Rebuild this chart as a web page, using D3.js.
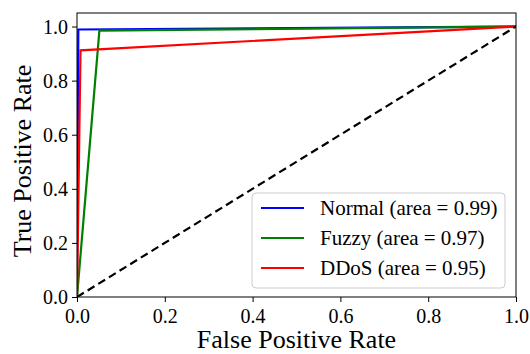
<!DOCTYPE html>
<html>
<head>
<meta charset="utf-8">
<script src="https://cdn.jsdelivr.net/npm/d3@7"></script>
<style>
  body { margin: 0; background: #fff; }
  svg { display: block; }
</style>
</head>
<body>
<svg id="chart" width="530" height="354"></svg>
<script>
// ---- Data ----
const seriesNames = ["Normal", "Fuzzy", "DDoS"];
const seriesAUC = ["0.99", "0.97", "0.95"];
const seriesColors = ["#0000ff", "#008000", "#ff0000"];
const normalFPR = [0, 0.003, 1];
const normalTPR = [0, 0.989, 1];
const fuzzyFPR = [0, 0.051, 1];
const fuzzyTPR = [0, 0.985, 1];
const ddosFPR = [0, 0.008, 1];
const ddosTPR = [0, 0.912, 1];
const diagFPR = [0, 1];
const diagTPR = [0, 1];
const xTicks = [0, 0.2, 0.4, 0.6, 0.8, 1.0];
const yTicks = [0, 0.2, 0.4, 0.6, 0.8, 1.0];

const series = [
  { fpr: normalFPR, tpr: normalTPR },
  { fpr: fuzzyFPR, tpr: fuzzyTPR },
  { fpr: ddosFPR, tpr: ddosTPR }
];

const FONT = "'Liberation Serif'";

// ---- Layout ----
const W = 530, H = 354;
const margin = { left: 77, right: 14, top: 13, bottom: 57 };
const svg = d3.select("#chart");

const x = d3.scaleLinear().domain([0, 1]).range([margin.left, W - margin.right]);
const y = d3.scaleLinear().domain([0, 1.05]).range([H - margin.bottom, margin.top]);

// Axes
const xAxis = d3.axisBottom(x).tickValues(xTicks).tickFormat(d3.format(".1f")).tickSize(5).tickSizeOuter(0);
const yAxis = d3.axisLeft(y).tickValues(yTicks).tickFormat(d3.format(".1f")).tickSize(5).tickSizeOuter(0);

const gx = svg.append("g").attr("transform", `translate(0,${H - margin.bottom})`).call(xAxis);
const gy = svg.append("g").attr("transform", `translate(${margin.left},0)`).call(yAxis);
[gx, gy].forEach(g => {
  g.select(".domain").remove();
  g.selectAll(".tick line").attr("stroke", "#000").attr("stroke-width", 1);
  g.selectAll(".tick text").attr("fill", "#000").attr("font-size", 20)
    .style("font-family", FONT);
});
gx.selectAll(".tick text").attr("dy", null).attr("y", 26);
gy.selectAll(".tick text").attr("x", -9).attr("dy", "0.34em");

// Clip
svg.append("clipPath").attr("id", "clip").append("rect")
  .attr("x", margin.left).attr("y", margin.top)
  .attr("width", W - margin.left - margin.right)
  .attr("height", H - margin.top - margin.bottom);

const plot = svg.append("g").attr("clip-path", "url(#clip)");

const line = d3.line().x(d => x(d[0])).y(d => y(d[1]));

series.forEach((s, i) => {
  plot.append("path")
    .datum(s.fpr.map((f, j) => [f, s.tpr[j]]))
    .attr("d", line)
    .attr("fill", "none")
    .attr("stroke", seriesColors[i])
    .attr("stroke-width", 2.2)
    .attr("stroke-linejoin", "miter");
});

plot.append("path")
  .datum(diagFPR.map((f, j) => [f, diagTPR[j]]))
  .attr("d", line)
  .attr("fill", "none")
  .attr("stroke", "#000")
  .attr("stroke-width", 2.2)
  .attr("stroke-dasharray", "8,4.5");

// Frame
svg.append("rect")
  .attr("x", margin.left).attr("y", margin.top)
  .attr("width", W - margin.left - margin.right)
  .attr("height", H - margin.top - margin.bottom)
  .attr("fill", "none").attr("stroke", "#000").attr("stroke-width", 1);

// Axis labels
svg.append("text")
  .attr("x", (x(0) + x(1)) / 2).attr("y", 348)
  .attr("text-anchor", "middle").attr("font-size", 26).attr("fill", "#000")
  .style("font-family", FONT)
  .text("False Positive Rate");

svg.append("text")
  .attr("transform", `translate(31,${(y(0) + y(1.05)) / 2 + 6}) rotate(-90)`)
  .attr("text-anchor", "middle").attr("font-size", 26).attr("fill", "#000")
  .style("font-family", FONT)
  .text("True Positive Rate");

// Legend
const lg = svg.append("g");
lg.append("rect")
  .attr("x", 252).attr("y", 193).attr("width", 253).attr("height", 95)
  .attr("rx", 4).attr("ry", 4)
  .attr("fill", "#fff").attr("fill-opacity", 0.8)
  .attr("stroke", "#cccccc").attr("stroke-width", 1);

seriesNames.forEach((name, i) => {
  const cy = 208 + i * 30;
  lg.append("line")
    .attr("x1", 261).attr("x2", 304).attr("y1", cy).attr("y2", cy)
    .attr("stroke", seriesColors[i]).attr("stroke-width", 2.2);
  lg.append("text")
    .attr("x", 320).attr("y", cy).attr("dy", "0.35em")
    .attr("font-size", 21).attr("fill", "#000")
    .style("font-family", FONT)
    .text(`${name} (area = ${seriesAUC[i]})`);
});
</script>
</body>
</html>
